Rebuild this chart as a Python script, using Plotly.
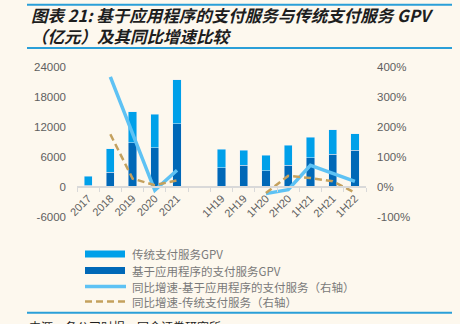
import plotly.graph_objects as go

categories = ['2017', '2018', '2019', '2020', '2021', ' ', '1H19', '2H19', '1H20', '2H20', '1H21', '2H21', '1H22']
app_gpv = [330, 3000, 8870, 7870, 12640, None, 3900, 4370, 3230, 4370, 5850, 6590, 7330]
trad_gpv = [1870, 4700, 6230, 6730, 8860, None, 3630, 2960, 3150, 3970, 4150, 4840, 3360]
app_growth = [None, 367, 180, -11, 56, None, None, None, -22, -9, 72, 44, 19]
trad_growth = [None, 176, 28, 6, 22, None, None, None, -20, 37, 30, 19, -19]

left_ticks = [-6000, 0, 6000, 12000, 18000, 24000]
left_labels = ['-6000', '0', '6000', '12000', '18000', '24000']
right_ticks = [-100, 0, 100, 200, 300, 400]
right_labels = ['-100%', '0%', '100%', '200%', '300%', '400%']

C_DARK = '#0068B7'
C_LIGHT = '#00A0E9'
C_LINE = '#5EC2F4'
C_DASH = '#C4A15E'
C_BG = '#FDF8EE'
C_TXT = '#5F5F5F'
FONT = 'Arial, Liberation Sans, Noto Sans CJK SC'
CJK = 'Noto Sans CJK SC'

# plot area in pixels
X0, X1, YT, YB = 77, 366, 67, 217
W, H = 460, 324


def px(x):
    return (x - X0) / (X1 - X0)


def py(y):
    return (YB - y) / (YB - YT)


fig = go.Figure()
fig.add_trace(go.Bar(x=categories, y=app_gpv, marker_color=C_DARK, name='基于应用程序的支付服务GPV', showlegend=False))
fig.add_trace(go.Bar(x=categories, y=trad_gpv, marker_color=C_LIGHT, name='传统支付服务GPV', showlegend=False))
fig.add_trace(go.Scatter(x=categories, y=app_growth, mode='lines', yaxis='y2', connectgaps=False,
                         line=dict(color=C_LINE, width=3.5), showlegend=False))
fig.add_trace(go.Scatter(x=categories, y=trad_growth, mode='lines', yaxis='y2', connectgaps=False,
                         line=dict(color=C_DASH, width=2.5, dash='7px,4px'), showlegend=False))

shapes = []
annotations = []
# title rules
for yy in (4.7, 48):
    shapes.append(dict(type='line', xref='paper', yref='paper', x0=px(27), x1=px(452), y0=py(yy), y1=py(yy),
                       line=dict(color='#2A9FD8', width=2)))
shapes.append(dict(type='line', xref='paper', yref='paper', x0=px(27), x1=px(452), y0=py(312.7), y1=py(312.7),
                   line=dict(color='#2A9FD8', width=2)))

annotations.append(dict(text='图表 21: 基于应用程序的支付服务与传统支付服务 GPV<br>（亿元）及其同比增速比较',
                        xref='paper', yref='paper', align='left',
                        x=px(29), y=py(25.5), xanchor='left', yanchor='middle', showarrow=False,
                        font=dict(family=CJK, size=16.5, color='#1E1E1E', weight='bold', style='italic')))

# custom legend
leg = [
    ('传统支付服务GPV', 'bar', C_LIGHT, 254),
    ('基于应用程序的支付服务GPV', 'bar', C_DARK, 270.5),
    ('同比增速-基于应用程序的支付服务（右轴）', 'line', C_LINE, 286.5),
    ('同比增速-传统支付服务（右轴）', 'dash', C_DASH, 301.5),
]
for text, kind, col, yy in leg:
    if kind == 'bar':
        shapes.append(dict(type='rect', xref='paper', yref='paper', x0=px(85), x1=px(125),
                           y0=py(yy + 3.4), y1=py(yy - 3.4), fillcolor=col, line=dict(width=0)))
    elif kind == 'line':
        shapes.append(dict(type='line', xref='paper', yref='paper', x0=px(85), x1=px(126), y0=py(yy), y1=py(yy),
                           line=dict(color=col, width=3.5)))
    else:
        shapes.append(dict(type='line', xref='paper', yref='paper', x0=px(85), x1=px(127), y0=py(yy), y1=py(yy),
                           line=dict(color=col, width=2.5, dash='7px,4px')))
    annotations.append(dict(text=text, xref='paper', yref='paper', x=px(129.5), y=py(yy), xanchor='left',
                            yanchor='middle', showarrow=False, font=dict(family=CJK, size=11.5, color='#7A7A7A')))

annotations.append(dict(text='来源：各公司财报，国金证券研究所', xref='paper', yref='paper', x=px(27), y=py(316),
                        xanchor='left', yanchor='top', showarrow=False,
                        font=dict(family=CJK, size=12, color='#1E1E1E')))

fig.update_layout(
    width=W, height=H,
    margin=dict(l=X0, r=W - X1, t=YT, b=H - YB, pad=0),
    paper_bgcolor=C_BG, plot_bgcolor=C_BG,
    barmode='stack', bargap=0.63,
    font=dict(family=FONT, size=11.5, color=C_TXT),
    xaxis=dict(type='category', categoryorder='array', categoryarray=categories,
               anchor='free', position=py(187), showline=True, linecolor='#D9D9D9', linewidth=1.5,
               ticks='outside', ticklen=4, tickcolor='#D9D9D9', tickwidth=1.2, tickson='boundaries',
               tickangle=-45, showgrid=False, zeroline=False,
               tickfont=dict(family=FONT, size=11, color=C_TXT)),
    yaxis=dict(range=[-6000, 24000], tickvals=left_ticks, ticktext=left_labels, showgrid=False,
               zeroline=False, showline=False, ticks='', ticklabelstandoff=10,
               tickfont=dict(family=FONT, size=11.5, color=C_TXT)),
    yaxis2=dict(range=[-100, 400], tickvals=right_ticks, ticktext=right_labels, overlaying='y', side='right',
                showgrid=False, zeroline=False, showline=False, ticks='', ticklabelstandoff=10,
                tickfont=dict(family=FONT, size=11.5, color=C_TXT)),
    shapes=shapes, annotations=annotations,
    showlegend=False,
)

fig.write_html('out.html')
